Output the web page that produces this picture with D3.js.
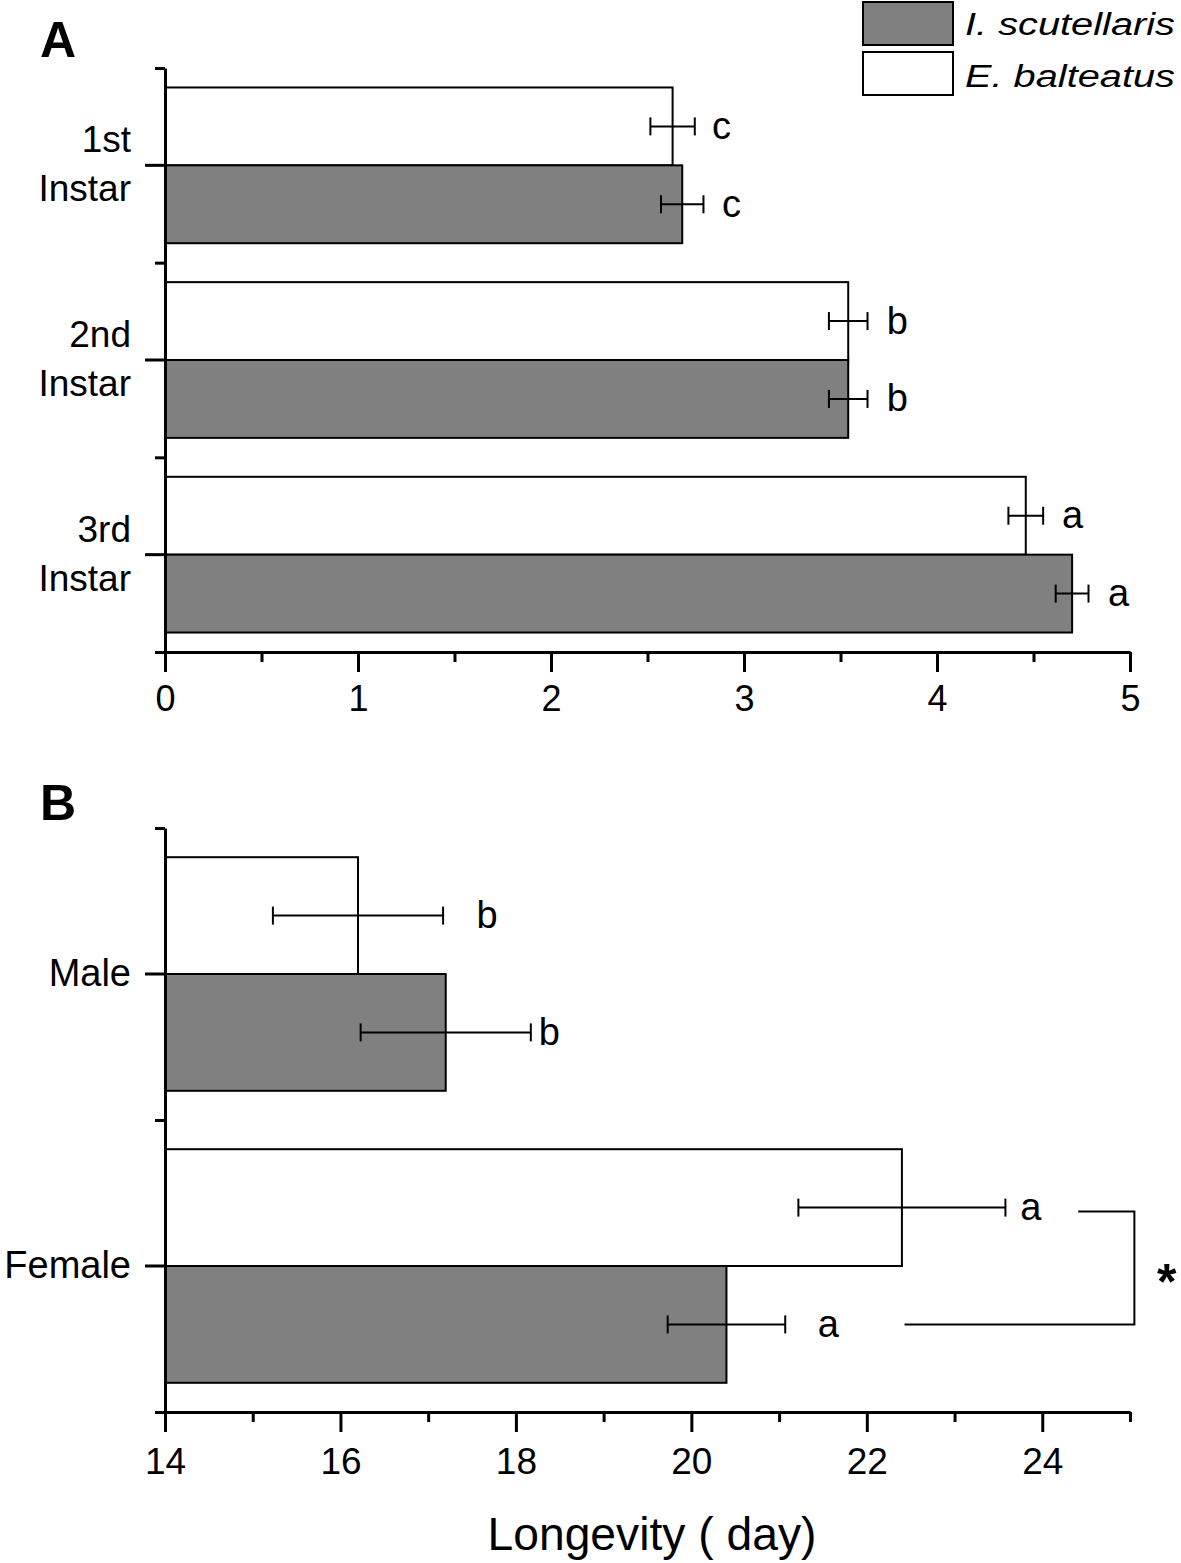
<!DOCTYPE html>
<html><head><meta charset="utf-8">
<script src="https://cdn.jsdelivr.net/npm/d3@7"></script>
<style>
body{margin:0;background:#fff}
text{font-family:"Liberation Sans",Arial,sans-serif;fill:#000}
</style>
</head><body>
<svg id="chart" width="1181" height="1563"></svg>
<script>
// ---- data ----
const seriesNames = ["I. scutellaris", "E. balteatus"];

const instarCategories = ["1st Instar", "2nd Instar", "3rd Instar"];
const instarScutellaris = [2.68, 3.54, 4.70];
const instarScutellarisErr = [0.11, 0.10, 0.085];
const instarBalteatus = [2.63, 3.54, 4.46];
const instarBalteatusErr = [0.115, 0.10, 0.09];
const instarScutellarisLetters = ["c", "b", "a"];
const instarBalteatusLetters = ["c", "b", "a"];
const instarScutellarisLetterAt = [2.886, 3.74, 4.886];
const instarBalteatusLetterAt = [2.834, 3.74, 4.648];
const instarTicks = [0, 1, 2, 3, 4, 5];
const instarMinorTicks = [0.5, 1.5, 2.5, 3.5, 4.5];

const sexCategories = ["Male", "Female"];
const sexScutellaris = [17.2, 20.4];
const sexScutellarisErr = [0.97, 0.67];
const sexBalteatus = [16.2, 22.4];
const sexBalteatusErr = [0.97, 1.18];
const sexScutellarisLetters = ["b", "a"];
const sexBalteatusLetters = ["b", "a"];
const sexScutellarisLetterAt = [18.26, 21.44];
const sexBalteatusLetterAt = [17.55, 23.75];
const sexTicks = [14, 16, 18, 20, 22, 24];
const sexMinorTicks = [15, 17, 19, 21, 23, 25];
// significance bracket for Female (data units): start of upper arm, vertical line, end of lower arm, mark position
const sexBracketX = [24.41, 25.05, 22.43];
const sexBracketMark = "*";
const sexBracketMarkAt = 25.42;

// ---- drawing ----
const svg = d3.select("#chart");
const fills = {"I. scutellaris": "#808080", "E. balteatus": "#ffffff"};

function panel(cfg) {
  const g = svg.append("g");
  const x = d3.scaleLinear().domain(cfg.domain).range([165, 1130]);
  const y = d3.scaleBand().domain(cfg.categories).range([cfg.top, cfg.bottom])
    .paddingInner(0.2).paddingOuter(0.1);
  const inner = d3.scaleBand().domain(["E. balteatus", "I. scutellaris"]).range([0, y.bandwidth()]);
  const idx = d3.scaleLinear().domain([0, cfg.categories.length]).range([cfg.top, cfg.bottom]);

  const rows = [];
  cfg.categories.forEach((c, i) => {
    rows.push({cat: c, s: "E. balteatus", v: cfg.balt[i], e: cfg.baltErr[i], l: cfg.baltLetters[i], la: cfg.baltLetterAt[i]});
    rows.push({cat: c, s: "I. scutellaris", v: cfg.scut[i], e: cfg.scutErr[i], l: cfg.scutLetters[i], la: cfg.scutLetterAt[i]});
  });
  const yc = d => y(d.cat) + inner(d.s) + inner.bandwidth() / 2;

  // bars
  g.selectAll("rect.bar").data(rows).join("rect")
    .attr("x", x(cfg.domain[0]))
    .attr("y", d => y(d.cat) + inner(d.s))
    .attr("width", d => x(d.v) - x(cfg.domain[0]))
    .attr("height", inner.bandwidth())
    .attr("fill", d => fills[d.s])
    .attr("stroke", "#000").attr("stroke-width", 2);

  // error bars
  const eb = g.selectAll("g.eb").data(rows).join("g").attr("stroke", "#000").attr("stroke-width", 2);
  eb.append("line").attr("x1", d => x(d.v - d.e)).attr("x2", d => x(d.v + d.e)).attr("y1", yc).attr("y2", yc);
  eb.append("line").attr("x1", d => x(d.v - d.e)).attr("x2", d => x(d.v - d.e)).attr("y1", d => yc(d) - 9).attr("y2", d => yc(d) + 9);
  eb.append("line").attr("x1", d => x(d.v + d.e)).attr("x2", d => x(d.v + d.e)).attr("y1", d => yc(d) - 9).attr("y2", d => yc(d) + 9);

  // letters
  g.selectAll("text.let").data(rows).join("text")
    .attr("x", d => x(d.la)).attr("y", yc).attr("dy", "0.33em")
    .attr("font-size", 38).text(d => d.l);

  // x axis
  const xa = g.append("g").attr("transform", `translate(0,${cfg.bottom})`);
  xa.call(d3.axisBottom(x).tickValues(cfg.ticks).tickSize(20).tickSizeOuter(0).tickPadding(cfg.tickPad).tickFormat(d3.format("d")));
  xa.select(".domain").attr("stroke-width", 3);
  xa.selectAll(".tick line").attr("stroke-width", 3);
  xa.selectAll(".tick text").attr("font-size", cfg.tickFont).attr("font-family", "Liberation Sans, Arial, sans-serif");
  const xm = g.append("g").attr("transform", `translate(0,${cfg.bottom})`);
  xm.call(d3.axisBottom(x).tickValues(cfg.minor).tickSize(10).tickFormat(""));
  xm.select(".domain").remove();
  xm.selectAll(".tick line").attr("stroke-width", 3);

  // y axis
  const ya = g.append("g").attr("transform", `translate(165,0)`);
  ya.call(d3.axisLeft(y).tickSize(20).tickSizeOuter(0).tickPadding(14));
  ya.select(".domain").attr("stroke-width", 3);
  ya.selectAll(".tick line").attr("stroke-width", 3);
  ya.selectAll(".tick text").attr("font-size", cfg.catFont).attr("font-family", "Liberation Sans, Arial, sans-serif");
  if (cfg.twoLine) {
    ya.selectAll(".tick text").each(function(d) {
      const t = d3.select(this);
      const parts = d.split(" ");
      t.text(null).attr("dy", null);
      t.append("tspan").attr("x", -34).attr("y", -13).text(parts[0]);
      t.append("tspan").attr("x", -34).attr("y", 36).text(parts[1]);
    });
  }
  const ym = g.append("g").attr("transform", `translate(165,0)`);
  ym.call(d3.axisLeft(idx).tickValues(d3.range(cfg.categories.length + 1)).tickSize(10).tickFormat(""));
  ym.select(".domain").remove();
  ym.selectAll(".tick line").attr("stroke-width", 3);

  // panel letter
  svg.append("text").attr("x", 40).attr("y", cfg.labelY).attr("font-size", 50).attr("font-weight", "bold").text(cfg.label);

  return {g, x, y, inner, yc, rows};
}

panel({
  label: "A", labelY: 57,
  categories: instarCategories, domain: [0, 5], top: 68, bottom: 652,
  scut: instarScutellaris, scutErr: instarScutellarisErr, scutLetters: instarScutellarisLetters, scutLetterAt: instarScutellarisLetterAt,
  balt: instarBalteatus, baltErr: instarBalteatusErr, baltLetters: instarBalteatusLetters, baltLetterAt: instarBalteatusLetterAt,
  ticks: instarTicks, minor: instarMinorTicks, tickPad: 13, tickFont: 36, catFont: 37, twoLine: true
});

const pB = panel({
  label: "B", labelY: 820,
  categories: sexCategories, domain: [14, 25], top: 828, bottom: 1412,
  scut: sexScutellaris, scutErr: sexScutellarisErr, scutLetters: sexScutellarisLetters, scutLetterAt: sexScutellarisLetterAt,
  balt: sexBalteatus, baltErr: sexBalteatusErr, baltLetters: sexBalteatusLetters, baltLetterAt: sexBalteatusLetterAt,
  ticks: sexTicks, minor: sexMinorTicks, tickPad: 16, tickFont: 37, catFont: 38, twoLine: false
});

// significance bracket (Female)
{
  const x = pB.x;
  const yTop = pB.y("Female") + pB.inner("E. balteatus") + pB.inner.bandwidth() / 2 + 4;
  const yBot = pB.y("Female") + pB.inner("I. scutellaris") + pB.inner.bandwidth() / 2;
  const line = d3.line();
  pB.g.append("path")
    .attr("d", line([[x(sexBracketX[0]), yTop], [x(sexBracketX[1]), yTop], [x(sexBracketX[1]), yBot], [x(sexBracketX[2]), yBot]]))
    .attr("fill", "none").attr("stroke", "#000").attr("stroke-width", 2);
  pB.g.append("text").attr("x", x(sexBracketMarkAt)).attr("y", (yTop + yBot) / 2 + 31)
    .attr("text-anchor", "middle").attr("font-size", 50).attr("font-weight", "bold").text(sexBracketMark);
}

// x axis title (panel B)
svg.append("text").attr("x", 652).attr("y", 1550).attr("text-anchor", "middle")
  .attr("font-size", 47).attr("textLength", 329).attr("lengthAdjust", "spacingAndGlyphs")
  .text("Longevity ( day)");

// legend
const legend = svg.append("g");
seriesNames.forEach((s, i) => {
  legend.append("rect").attr("x", 863).attr("y", 2 + i * 50).attr("width", 90).attr("height", 43)
    .attr("fill", fills[s]).attr("stroke", "#000").attr("stroke-width", 2);
  legend.append("text").attr("x", 965).attr("y", 35 + i * 52).attr("font-size", 31).attr("font-style", "italic")
    .attr("textLength", 210).attr("lengthAdjust", "spacingAndGlyphs").text(s);
});
</script>
</body></html>
